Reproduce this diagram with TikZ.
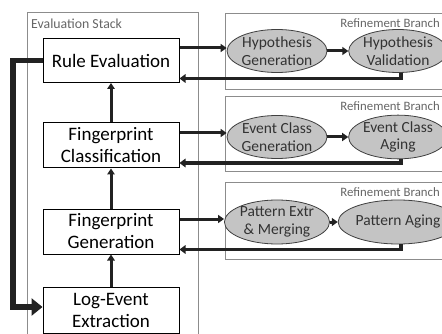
\documentclass[tikz,border=0pt]{standalone}
\usepackage{fontspec}
\setmainfont{Carlito}
\usetikzlibrary{arrows.meta,calc,shapes.geometric}
\definecolor{arr}{HTML}{222222}
\definecolor{frm}{HTML}{8C8C8C}
\definecolor{ell}{HTML}{C4C4C4}
\begin{document}
\begin{tikzpicture}[x=1pt,y=-1pt,
  stagebox/.style={draw=black,line width=1pt,fill=white,minimum width=136pt,minimum height=45pt,align=center,
    font=\fontsize{19}{22}\selectfont,inner sep=0pt},
  branchell/.style={ellipse,draw=black!75,line width=0.8pt,fill=ell,minimum width=97pt,minimum height=43pt,align=center,
    font=\fontsize{15.5}{17.5}\selectfont,text=black!80,inner sep=0pt},
  frame/.style={draw=frm,line width=0.9pt},
  lbl/.style={font=\fontsize{13.8}{15}\selectfont,text=black!60,anchor=west,inner sep=0pt},
  rlbl/.style={font=\fontsize{12.8}{14}\selectfont,text=black!60,anchor=east,inner sep=0pt},
  fwd/.style={draw=arr,line width=3pt,-{Triangle[length=6pt,width=8pt]}},
  back/.style={draw=arr,line width=3.5pt,-{Triangle[length=6pt,width=8.5pt]}},
  up/.style={draw=arr,line width=3pt,-{Triangle[length=6pt,width=7.5pt]}},
  big/.style={draw=arr,line width=5.5pt,-{Triangle[length=11pt,width=17pt]}}
]
\useasboundingbox (0,0) rectangle (442,334);
\fill[white] (0,0) rectangle (442,334);
% frames
\draw[frame] (27,12) rectangle (198,345);
\draw[frame] (225,13) rectangle (470,89);
\draw[frame] (225,96) rectangle (470,171);
\draw[frame] (225,182) rectangle (470,259);
\node[lbl] (stk) at (31,24) {Evaluation Stack};
\node[rlbl] (rb1) at (440,23) {Refinement Branch};
\node[rlbl] (rb2) at (440,106) {Refinement Branch};
\node[rlbl] (rb3) at (440,192) {Refinement Branch};
% stack
\node[stagebox,minimum height=44pt] (re) at (111,60.5) {Rule Evaluation};
\node[stagebox] (fc) at (111,145.5) {Fingerprint\\Classification};
\node[stagebox] (fg) at (111,231.5) {Fingerprint\\Generation};
\node[stagebox,minimum height=46pt] (le) at (111,310) {Log-Event\\Extraction};
% ellipses
\node[branchell] (hg) at (277,51) {Hypothesis\\Generation};
\node[branchell] (hv) at (398,51) {Hypothesis\\Validation};
\node[branchell] (eg) at (277,137) {Event Class\\Generation};
\node[branchell] (ea) at (398,137) {Event Class\\Aging};
\node[branchell,minimum height=44pt] (pe) at (277,222) {Pattern Extr\\\& Merging};
\node[branchell,minimum height=44pt] (pa) at (398,222) {Pattern Aging};
% vertical arrows
\draw[up] (le) -- (fg);
\draw[up] (fg) -- (fc);
\draw[up] (fc) -- (re);
% branch 1
\coordinate (o1) at ($(re.east)+(0,-12.5)$);
\coordinate (r1) at ($(re.east)+(0,18)$);
\draw[fwd] (o1) -- (o1 -| hg.west);
\draw[fwd] (hg) -- (hv);
\draw[back] ([xshift=3pt]hv.south) |- (r1);
% branch 2
\coordinate (o2) at ($(fc.east)+(0,-12.5)$);
\coordinate (r2) at ($(fc.east)+(0,17.5)$);
\draw[fwd] (o2) -- (o2 -| eg.west);
\draw[fwd] (eg) -- (ea);
\draw[back] ([xshift=3pt]ea.south) |- (r2);
% branch 3
\coordinate (o3) at ($(fg.east)+(0,-12.5)$);
\coordinate (r3) at ($(fg.east)+(0,18)$);
\draw[fwd] (o3) -- (o3 -| pe.west);
\draw[fwd] (pe) -- (pa);
\draw[back] ([xshift=3pt]pa.south) |- (r3);
% left feedback
\coordinate (lc) at (13,60.5);
\coordinate (lb) at (13,307);
\draw[big] (re.west) -- (lc) -- (lb) -- (lb -| le.west);
\end{tikzpicture}
\end{document}
